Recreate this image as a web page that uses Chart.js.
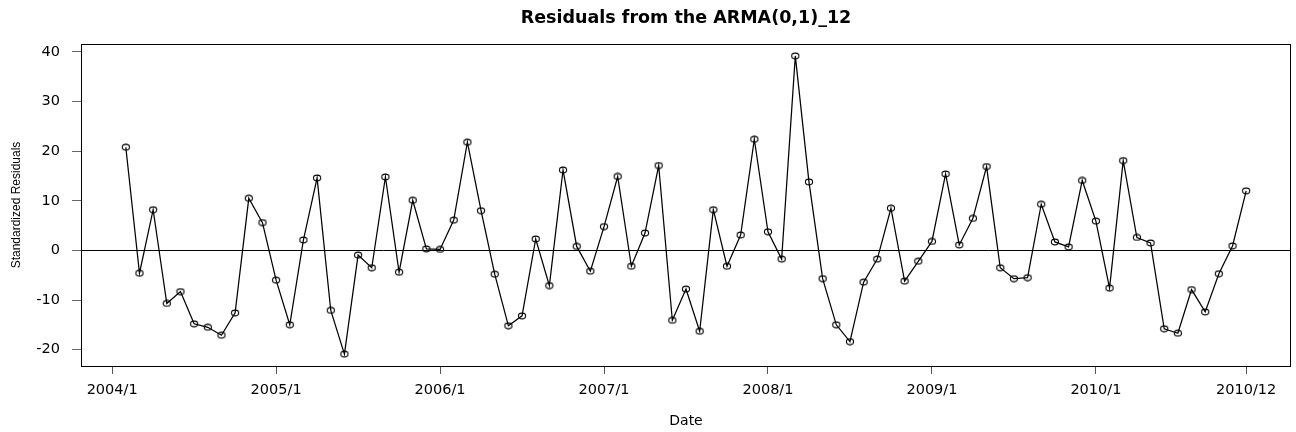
<!DOCTYPE html>
<html>
<head>
<meta charset="utf-8">
<script src="https://cdn.jsdelivr.net/npm/chart.js@4/dist/chart.umd.min.js"></script>
<style>
  html, body { margin: 0; padding: 0; background: #ffffff; }
  #wrap { width: 1296px; height: 432px; }
</style>
</head>
<body>
<div id="wrap"><canvas id="c" width="1296" height="432"></canvas></div>
<script>
// ---- data (month index: 0 = 2004/1) ----
const startYear = 2004;
const firstMonthIndex = 1; // 2004/2
const residuals = [
  20.8, -4.6, 8.2, -10.7, -8.3, -14.8, -15.5, -17.1, -12.6, 10.5, 5.6,
  -6.0, -15.0, 2.1, 14.6, -12.1, -20.9, -0.95, -3.5, 14.8, -4.4, 10.1, 0.3,
  0.2, 6.1, 21.8, 8.0, -4.8, -15.2, -13.2, 2.3, -7.1, 16.2, 0.8, -4.2, 4.8,
  14.9, -3.2, 3.5, 17.1, -14.1, -7.8, -16.3, 8.2, -3.2, 3.1, 22.4, 3.75,
  -1.75, 39.2, 13.8, -5.7, -15.0, -18.4, -6.4, -1.75, 8.5, -6.2, -2.2, 1.8,
  15.4, 1.1, 6.45, 16.9, -3.5, -5.7, -5.5, 9.3, 1.7, 0.7, 14.1, 5.9,
  -7.6, 18.1, 2.6, 1.5, -15.8, -16.7, -7.9, -12.4, -4.7, 0.9, 12.0
];
const monthIndex = residuals.map((_, i) => firstMonthIndex + i);
const dateLabels = monthIndex.map(m => (startYear + Math.floor(m / 12)) + '/' + (m % 12 + 1));
const xTickValues = [0, 12, 24, 36, 48, 60, 72, 83];
const xTickLabels = ['2004/1', '2005/1', '2006/1', '2007/1', '2008/1', '2009/1', '2010/1', '2010/12'];
const yTickValues = [-20, -10, 0, 10, 20, 30, 40];

// R-style 4% axis extension
const xMin = monthIndex[0], xMax = monthIndex[monthIndex.length - 1];
const xPad = (xMax - xMin) * 0.04;
const yLo = Math.min(...residuals), yHi = Math.max(...residuals);
const yPad = (yHi - yLo) * 0.04;

const points = monthIndex.map((m, i) => ({ x: m, y: residuals[i] }));

// slightly wide open circle, like the reference's stretched R symbols
function makeMarker() {
  const c = document.createElement('canvas');
  c.width = 10; c.height = 8;
  const g = c.getContext('2d');
  g.strokeStyle = '#000';
  g.lineWidth = 1.1;
  g.beginPath();
  g.ellipse(5, 4, 3.6, 2.9, 0, 0, Math.PI * 2);
  g.stroke();
  return c;
}
const marker = makeMarker();

const boxPlugin = {
  id: 'boxAndZero',
  beforeDatasetsDraw(chart) {
    const { ctx, chartArea: a, scales } = chart;
    const y0 = Math.round(scales.y.getPixelForValue(0)) + 0.5;
    ctx.save();
    ctx.strokeStyle = '#000';
    ctx.lineWidth = 1;
    ctx.beginPath();
    ctx.moveTo(a.left, y0);
    ctx.lineTo(a.right, y0);
    ctx.stroke();
    ctx.restore();
  },
  afterDraw(chart) {
    const { ctx, chartArea: a } = chart;
    ctx.save();
    ctx.strokeStyle = '#000';
    ctx.lineWidth = 1;
    ctx.strokeRect(Math.round(a.left) + 0.5, Math.round(a.top) + 0.5,
                   Math.round(a.right - a.left) - 1, Math.round(a.bottom - a.top));
    ctx.restore();
  }
};

new Chart(document.getElementById('c'), {
  type: 'line',
  data: {
    labels: dateLabels,
    datasets: [{
      label: 'Residuals',
      data: points,
      borderColor: '#000',
      borderWidth: 1.25,
      pointStyle: marker,
      pointRadius: 4,
      pointBorderWidth: 1,
      pointBorderColor: '#000',
      pointBackgroundColor: 'rgba(255,255,255,0)',
      tension: 0,
      fill: false
    }]
  },
  options: {
    responsive: false,
    devicePixelRatio: 1,
    animation: false,
    layout: { padding: { left: 0, right: 2, top: 0, bottom: 0 } },
    plugins: {
      legend: { display: false },
      tooltip: { enabled: false },
      title: {
        display: true,
        fullSize: false,
        text: 'Residuals from the ARMA(0,1)_12',
        color: '#000',
        font: { family: 'DejaVu Sans', size: 17.5, weight: 'bold', lineHeight: 1.2 },
        padding: { top: 8, bottom: 15 }
      }
    },
    scales: {
      x: {
        type: 'linear',
        min: xMin - xPad,
        max: xMax + xPad,
        afterBuildTicks(scale) { scale.ticks = xTickValues.map(v => ({ value: v })); },
        afterFit(scale) { scale.height = 66; },
        ticks: {
          color: '#000',
          font: { family: 'DejaVu Sans', size: 14.5 },
          padding: 8,
          maxRotation: 0,
          autoSkip: false,
          callback(v) { const i = xTickValues.indexOf(v); return i >= 0 ? xTickLabels[i] : ''; }
        },
        grid: { drawOnChartArea: false, drawTicks: true, tickLength: 8, tickColor: '#555' },
        border: { display: false },
        title: {
          display: true,
          text: 'Date',
          color: '#000',
          font: { family: 'DejaVu Sans', size: 14, lineHeight: 1.2 },
          padding: { top: 0, bottom: 2.6 }
        }
      },
      y: {
        type: 'linear',
        min: yLo - yPad,
        max: yHi + yPad,
        afterBuildTicks(scale) { scale.ticks = yTickValues.map(v => ({ value: v })); },
        afterFit(scale) { scale.width = 81; },
        ticks: {
          color: '#000',
          font: { family: 'DejaVu Sans', size: 14.5 },
          padding: 12,
          callback(v) { return String(v); }
        },
        grid: { drawOnChartArea: false, drawTicks: true, tickLength: 9, tickColor: '#666' },
        border: { display: false },
        title: {
          display: true,
          text: 'Standardized Residuals',
          color: '#000',
          font: { family: 'Liberation Sans', size: 12, lineHeight: 1.2 },
          padding: { top: 9, bottom: 0 }
        }
      }
    }
  },
  plugins: [boxPlugin]
});
</script>
</body>
</html>
